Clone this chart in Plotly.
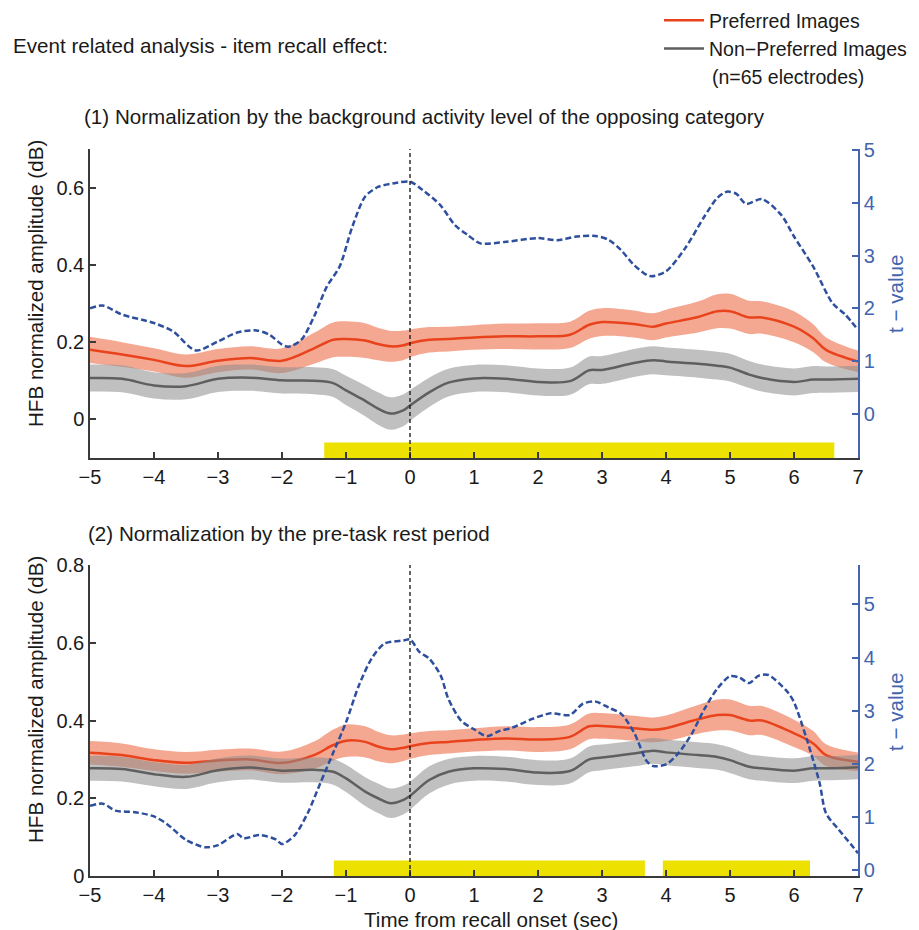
import plotly.graph_objects as go

# ---------------- data ----------------
time = [-5, -4.5, -4, -3.5, -3, -2.5, -2, -1.5, -1.2, -1, -0.7, -0.5, -0.3, -0.1, 0, 0.3, 0.6,
        1, 1.5, 2, 2.5, 2.8, 3, 3.5, 3.8, 4, 4.5, 4.8, 5, 5.3, 5.5, 6, 6.3, 6.5, 7]

# Panel 1: normalization by background activity of opposing category
pref1 = [0.180, 0.168, 0.154, 0.138, 0.152, 0.159, 0.152, 0.184, 0.206, 0.208, 0.204, 0.195, 0.189,
         0.192, 0.197, 0.206, 0.208, 0.212, 0.215, 0.215, 0.219, 0.245, 0.252, 0.247, 0.240, 0.248,
         0.265, 0.280, 0.280, 0.264, 0.264, 0.240, 0.210, 0.180, 0.150]
pref1_err = [0.034, 0.032, 0.030, 0.030, 0.030, 0.030, 0.032, 0.040, 0.045, 0.046, 0.045, 0.042, 0.040,
             0.038, 0.036, 0.033, 0.032, 0.032, 0.033, 0.034, 0.034, 0.036, 0.036, 0.035, 0.035, 0.036,
             0.040, 0.044, 0.045, 0.043, 0.042, 0.040, 0.036, 0.032, 0.028]
nonpref1 = [0.107, 0.105, 0.088, 0.086, 0.105, 0.108, 0.101, 0.100, 0.094, 0.075, 0.048, 0.028, 0.015,
            0.024, 0.036, 0.070, 0.095, 0.106, 0.105, 0.097, 0.099, 0.127, 0.128, 0.146, 0.153, 0.150,
            0.144, 0.139, 0.134, 0.116, 0.107, 0.097, 0.103, 0.103, 0.105]
nonpref1_err = [0.035, 0.035, 0.034, 0.034, 0.034, 0.034, 0.034, 0.035, 0.036, 0.038, 0.040, 0.042, 0.042,
                0.041, 0.040, 0.038, 0.036, 0.035, 0.035, 0.035, 0.035, 0.036, 0.036, 0.036, 0.036, 0.036,
                0.036, 0.036, 0.036, 0.035, 0.035, 0.035, 0.035, 0.034, 0.034]
tval1_time = [-5, -4.8, -4.5, -4, -3.7, -3.35, -3, -2.7, -2.4, -2.2, -2, -1.9, -1.7, -1.5, -1.3, -1.1,
              -0.9, -0.7, -0.5, -0.2, 0, 0.2, 0.47, 0.7, 0.9, 1.1, 1.5, 2, 2.3, 2.6, 2.9, 3.1, 3.3,
              3.5, 3.75, 4, 4.3, 4.6, 4.8, 4.95, 5.1, 5.25, 5.5, 5.8, 6, 6.3, 6.6, 6.8, 7]
tval1 = [2.00, 2.05, 1.88, 1.72, 1.56, 1.20, 1.37, 1.54, 1.58, 1.50, 1.31, 1.27, 1.40, 1.84, 2.41, 2.79,
         3.55, 4.12, 4.30, 4.38, 4.40, 4.24, 3.96, 3.58, 3.39, 3.23, 3.26, 3.33, 3.29, 3.36, 3.37, 3.30,
         3.10, 2.82, 2.61, 2.70, 3.14, 3.74, 4.09, 4.21, 4.17, 3.98, 4.07, 3.77, 3.36, 2.79, 2.10, 1.88, 1.59]
sig1_start = [-1.34]
sig1_end = [6.63]

# Panel 2: normalization by pre-task rest period
pref2 = [0.317, 0.311, 0.298, 0.291, 0.297, 0.300, 0.291, 0.311, 0.337, 0.348, 0.345, 0.333, 0.326,
         0.330, 0.334, 0.342, 0.345, 0.350, 0.354, 0.351, 0.358, 0.385, 0.386, 0.380, 0.376, 0.380,
         0.403, 0.414, 0.414, 0.400, 0.400, 0.367, 0.341, 0.311, 0.294]
pref2_err = [0.030, 0.030, 0.028, 0.028, 0.028, 0.028, 0.029, 0.035, 0.040, 0.042, 0.040, 0.038, 0.036,
             0.034, 0.033, 0.031, 0.030, 0.030, 0.031, 0.032, 0.032, 0.033, 0.033, 0.032, 0.032, 0.033,
             0.037, 0.040, 0.040, 0.038, 0.037, 0.035, 0.032, 0.028, 0.024]
nonpref2 = [0.277, 0.275, 0.262, 0.255, 0.272, 0.279, 0.271, 0.273, 0.268, 0.251, 0.217, 0.200, 0.187,
            0.196, 0.206, 0.247, 0.268, 0.277, 0.275, 0.266, 0.270, 0.300, 0.305, 0.315, 0.322, 0.318,
            0.311, 0.306, 0.298, 0.281, 0.277, 0.271, 0.277, 0.277, 0.280]
nonpref2_err = [0.032, 0.032, 0.031, 0.031, 0.031, 0.031, 0.031, 0.032, 0.033, 0.035, 0.037, 0.038, 0.038,
                0.037, 0.036, 0.035, 0.033, 0.032, 0.032, 0.032, 0.032, 0.033, 0.033, 0.033, 0.033, 0.033,
                0.033, 0.033, 0.033, 0.032, 0.032, 0.032, 0.032, 0.031, 0.031]
tval2_time = [-5, -4.8, -4.6, -4.3, -4, -3.8, -3.5, -3.2, -3, -2.7, -2.6, -2.35, -2.1, -2, -1.8, -1.6,
              -1.4, -1.2, -1, -0.8, -0.6, -0.4, -0.1, 0, 0.15, 0.3, 0.48, 0.6, 0.8, 1.0, 1.2, 1.4, 1.6,
              1.9, 2.2, 2.5, 2.7, 2.9, 3.1, 3.3, 3.5, 3.7, 3.8, 4.0, 4.2, 4.4, 4.6, 4.8, 5.0, 5.15, 5.3,
              5.45, 5.6, 5.9, 6.0, 6.2, 6.4, 6.5, 6.7, 6.9, 7.0]
tval2 = [1.21, 1.25, 1.12, 1.09, 1.01, 0.87, 0.57, 0.43, 0.47, 0.68, 0.60, 0.66, 0.58, 0.49, 0.66, 1.07,
         1.64, 2.21, 2.78, 3.47, 3.98, 4.26, 4.32, 4.34, 4.10, 3.98, 3.66, 3.22, 2.81, 2.65, 2.52, 2.62,
         2.68, 2.84, 2.95, 2.92, 3.13, 3.17, 3.06, 2.94, 2.59, 2.05, 1.96, 1.99, 2.21, 2.56, 3.03, 3.41,
         3.65, 3.62, 3.52, 3.66, 3.67, 3.35, 3.16, 2.46, 1.64, 1.07, 0.76, 0.47, 0.32]
sig2_start = [-1.19, 3.95]
sig2_end = [3.67, 6.25]

x_ticks = [-5, -4, -3, -2, -1, 0, 1, 2, 3, 4, 5, 6, 7]

# ---------------- style ----------------
FONT = "Liberation Sans, Arial, Helvetica, sans-serif"
TXT = "#1a1a1a"
AX = "#3a3a3a"
BLUE_AX = "#4464ad"
BLUE_LINE = "#2d4f9e"
RED_LINE = "#e8431c"
RED_BAND = "rgba(238,105,65,0.58)"
GRAY_LINE = "#5f5f5f"
GRAY_BAND = "rgba(140,140,140,0.55)"
YELLOW = "#ede100"
FS = 20
FS_T = 20.6

W, H = 919, 930
ML, MR, MT, MB = 90, 61, 149, 54
PW, PH = W - ML - MR, H - MT - MB


def px_x(px):
    return (px - ML) / PW


def px_y(py):
    return (H - MB - py) / PH


fig = go.Figure()


def add_panel(xa, ya, ya2, pref, perr, nonp, nerr, tt, tv, legend):
    lo = [m - e for m, e in zip(pref, perr)]
    hi = [m + e for m, e in zip(pref, perr)]
    fig.add_trace(go.Scatter(x=time, y=lo, xaxis=xa, yaxis=ya, mode="lines", line=dict(width=0, shape="spline"),
                             showlegend=False, hoverinfo="skip"))
    fig.add_trace(go.Scatter(x=time, y=hi, xaxis=xa, yaxis=ya, mode="lines", line=dict(width=0, shape="spline"),
                             fill="tonexty", fillcolor=RED_BAND, showlegend=False, hoverinfo="skip"))
    fig.add_trace(go.Scatter(x=time, y=pref, xaxis=xa, yaxis=ya, mode="lines", name="Preferred Images",
                             line=dict(color=RED_LINE, width=2.5, shape="spline"), showlegend=legend))
    lo = [m - e for m, e in zip(nonp, nerr)]
    hi = [m + e for m, e in zip(nonp, nerr)]
    fig.add_trace(go.Scatter(x=time, y=lo, xaxis=xa, yaxis=ya, mode="lines", line=dict(width=0, shape="spline"),
                             showlegend=False, hoverinfo="skip"))
    fig.add_trace(go.Scatter(x=time, y=hi, xaxis=xa, yaxis=ya, mode="lines", line=dict(width=0, shape="spline"),
                             fill="tonexty", fillcolor=GRAY_BAND, showlegend=False, hoverinfo="skip"))
    fig.add_trace(go.Scatter(x=time, y=nonp, xaxis=xa, yaxis=ya, mode="lines", name="Non\u2212Preferred Images",
                             line=dict(color=GRAY_LINE, width=2.5, shape="spline"), showlegend=legend))
    fig.add_trace(go.Scatter(x=tt, y=tv, xaxis=xa, yaxis=ya2, mode="lines", name="t-value",
                             line=dict(color=BLUE_LINE, width=2.5, dash="6px,3px", shape="spline", smoothing=0.8),
                             showlegend=False))


add_panel("x", "y", "y2", pref1, pref1_err, nonpref1, nonpref1_err, tval1_time, tval1, True)
add_panel("x2", "y3", "y4", pref2, pref2_err, nonpref2, nonpref2_err, tval2_time, tval2, False)

shapes = []
for s, e in zip(sig1_start, sig1_end):
    shapes.append(dict(type="rect", xref="x", yref="y domain", x0=s, x1=e, y0=0, y1=0.05,
                       fillcolor=YELLOW, line=dict(width=0), layer="below"))
for s, e in zip(sig2_start, sig2_end):
    shapes.append(dict(type="rect", xref="x2", yref="y3 domain", x0=s, x1=e, y0=0, y1=0.05,
                       fillcolor=YELLOW, line=dict(width=0), layer="below"))
shapes.append(dict(type="line", xref="x", yref="y domain", x0=0, x1=0, y0=0, y1=1,
                   line=dict(color="#111111", width=1.3, dash="4px,3px"), layer="above"))
shapes.append(dict(type="line", xref="x2", yref="y3 domain", x0=0, x1=0, y0=0, y1=1,
                   line=dict(color="#111111", width=1.3, dash="4px,3px"), layer="above"))

xcommon = dict(range=[-5, 7], tickvals=x_ticks, ticks="inside", ticklen=6, tickwidth=1.5, tickcolor=AX,
               showline=True, linecolor=AX, linewidth=1.5, showgrid=False, zeroline=False, automargin=False,
               tickfont=dict(family=FONT, size=FS, color=TXT), domain=[0, 1])
lcommon = dict(ticks="inside", ticklen=6, tickwidth=1.5, tickcolor=AX, showline=True, linecolor=AX,
               linewidth=1.5, showgrid=False, zeroline=False, automargin=False,
               tickfont=dict(family=FONT, size=FS, color=TXT))
rcommon = dict(ticks="inside", ticklen=6, tickwidth=1.5, tickcolor=BLUE_AX, showline=True, linecolor=BLUE_AX,
               linewidth=1.5, showgrid=False, zeroline=False, side="right", automargin=False,
               tickfont=dict(family=FONT, size=FS, color=BLUE_AX), tickvals=[0, 1, 2, 3, 4, 5])

top_dom = [px_y(458), 1]
bot_dom = [0, px_y(565)]

fig.update_layout(
    width=W, height=H,
    margin=dict(l=ML, r=MR, t=MT, b=MB, autoexpand=False),
    paper_bgcolor="white", plot_bgcolor="white",
    font=dict(family=FONT, size=FS, color=TXT),
    xaxis=dict(xcommon, anchor="y"),
    yaxis=dict(lcommon, domain=top_dom, range=[-0.1, 0.7], tickvals=[0, 0.2, 0.4, 0.6], anchor="x"),
    yaxis2=dict(rcommon, domain=top_dom, range=[-0.84, 5.02], overlaying="y", anchor="x"),
    xaxis2=dict(xcommon, anchor="y3"),
    yaxis3=dict(lcommon, domain=bot_dom, range=[0, 0.8], tickvals=[0, 0.2, 0.4, 0.6, 0.8], anchor="x2"),
    yaxis4=dict(rcommon, domain=bot_dom, range=[-0.11, 5.74], overlaying="y3", anchor="x2"),
    shapes=shapes,
    showlegend=True,
    legend=dict(xref="container", yref="container", x=659 / W, y=1 - 1 / H, xanchor="left", yanchor="top",
                font=dict(family=FONT, size=19.5, color=TXT), bgcolor="rgba(0,0,0,0)", itemwidth=40,
                tracegroupgap=0, traceorder="normal"),
)

ann = [
    dict(text="Event related analysis - item recall effect:", x=px_x(11), y=px_y(46), xanchor="left"),
    dict(text="(n=65 electrodes)", x=px_x(710), y=px_y(77), xanchor="left", font=dict(size=19.5)),
    dict(text="(1) Normalization by the background activity level of the opposing category",
         x=px_x(82), y=px_y(116), xanchor="left"),
    dict(text="(2) Normalization by the pre-task rest period", x=px_x(86), y=px_y(533), xanchor="left"),
    dict(text="HFB normalized amplitude (dB)", x=px_x(35), y=px_y(284), textangle=-90),
    dict(text="HFB normalized amplitude (dB)", x=px_x(35), y=px_y(700), textangle=-90),
    dict(text="t \u2212 value", x=px_x(895), y=px_y(294), textangle=-90, font=dict(color=BLUE_AX)),
    dict(text="t \u2212 value", x=px_x(895), y=px_y(712), textangle=-90, font=dict(color=BLUE_AX)),
    dict(text="Time from recall onset (sec)", x=px_x(491), y=px_y(919)),
]
for a in ann:
    base = dict(xref="paper", yref="paper", showarrow=False, yanchor="middle",
                font=dict(family=FONT, size=FS_T, color=TXT))
    base.setdefault("xanchor", "center")
    f = base["font"].copy()
    f.update(a.pop("font", {}))
    base.update(a)
    base["font"] = f
    fig.add_annotation(**base)

fig.write_html("out.html")
